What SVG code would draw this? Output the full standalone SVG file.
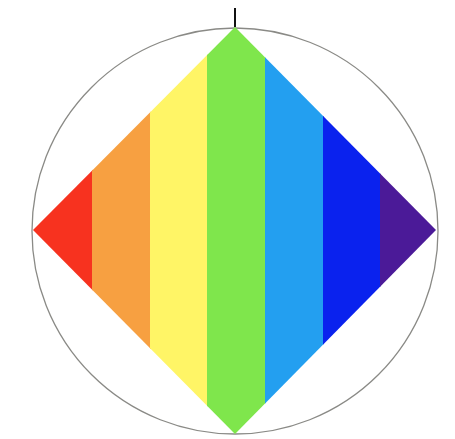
<svg xmlns="http://www.w3.org/2000/svg" width="455" height="439" viewBox="0 0 455 439">
<defs>
<clipPath id="dia"><polygon points="235,27 436,230 235,434 33,230"/></clipPath>
</defs>
<style>.ring{fill:none;stroke:#8a8a86;stroke-width:1.3}</style>
<rect width="455" height="439" fill="#ffffff"/>
<circle class="ring" cx="235" cy="231" r="203"/>
<g id="diamond" clip-path="url(#dia)">
<rect x="30" y="20" width="63" height="420" fill="#f7321f"/>
<rect x="92" y="20" width="59" height="420" fill="#f7a041"/>
<rect x="150" y="20" width="58" height="420" fill="#fff566"/>
<rect x="207" y="20" width="59" height="420" fill="#7fe64c"/>
<rect x="265" y="20" width="59" height="420" fill="#239ff0"/>
<rect x="323" y="20" width="58" height="420" fill="#0a22ee"/>
<rect x="380" y="20" width="60" height="420" fill="#4b1a98"/>
</g>
<line x1="235" y1="8" x2="235" y2="27" stroke="#111" stroke-width="2"/>
</svg>
